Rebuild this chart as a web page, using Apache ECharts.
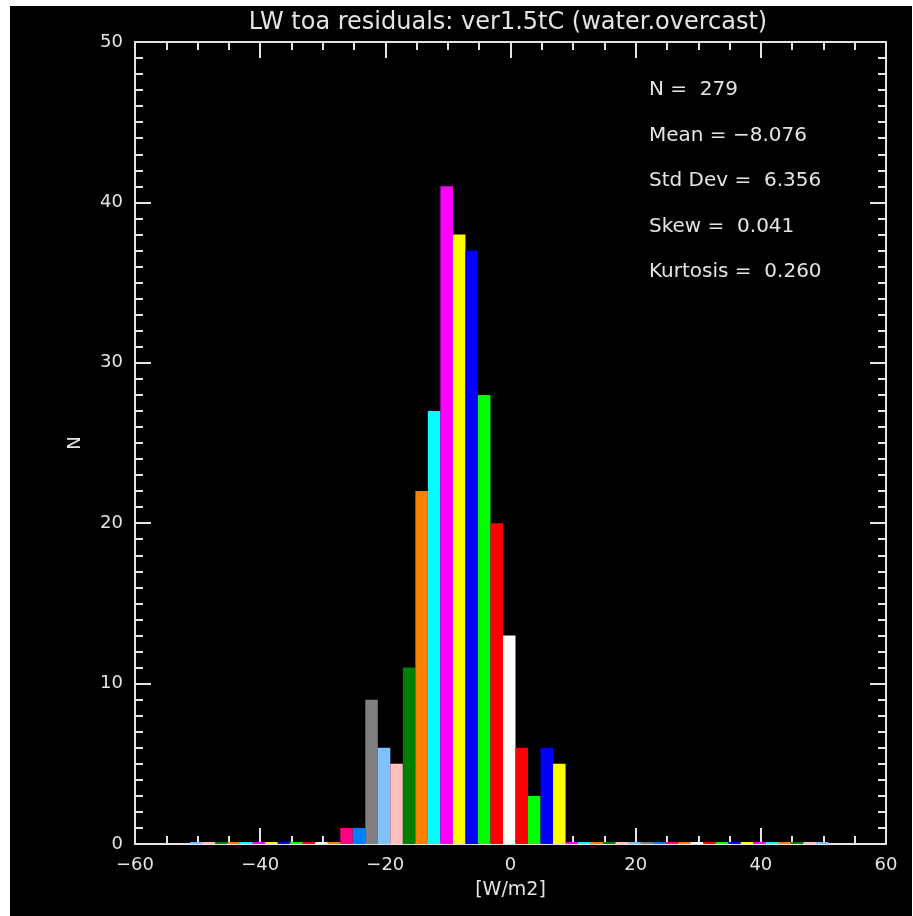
<!DOCTYPE html>
<html>
<head>
<meta charset="utf-8">
<script src="https://cdn.jsdelivr.net/npm/echarts@6/dist/echarts.min.js"></script>
<style>
html,body{margin:0;padding:0;background:#fff;}
#chart{width:913px;height:916px;}
</style>
</head>
<body>
<div id="chart"></div>
<script>
// ---- data ----
const titleText = 'LW toa residuals: ver1.5tC (water.overcast)';
const xAxisName = '[W/m2]';
const yAxisName = 'N';
const binStart = -51.2;
const binWidth = 2;
const counts = [
  0,0,0,0,0,0,0,0,0,0,0,0,
  1,1,9,6,5,11,22,27,41,38,37,28,20,13,6,3,6,5,
  0,0,0,0,0,0,0,0,0,0,0,0,0,0,0,0,0,0,0,0,0
];
const xTicks = [-60,-40,-20,0,20,40,60];
const yTicks = [0,10,20,30,40,50];
const statsLines = ['N =  279','Mean = \u22128.076','Std Dev =  6.356','Skew =  0.041','Kurtosis =  0.260'];

// ---- styles ----
const C = {
  lb:'#80c0ff', pk:'#ffc0c0', dg:'#008000', or:'#ff8000', cy:'#00ffff', mg:'#ff00ff',
  ye:'#ffff00', bl:'#0000ff', gr:'#00ff00', rd:'#ff0000', wh:'#ffffff', dp:'#ff0080',
  db:'#0080ff', gy:'#808080'
};
const halfPal = ['lb','pk','dg','or','cy','mg','ye','bl','gr','rd','wh','or','dp','db','gy',
                 'lb','pk','dg','or','cy','mg','ye','bl','gr','rd'];
const palette = halfPal.concat(['wh']).concat(halfPal.slice().reverse()).map(k => C[k]);

const fg = '#e4e4e4';
const font = 'DejaVu Sans';
const minus = v => String(v).replace('-', '\u2212');

const binData = counts.map((n, i) => [binStart + i*binWidth, binStart + (i+1)*binWidth, n]);

const chart = echarts.init(document.getElementById('chart'), null, {renderer:'canvas'});

function xAx(pos, showLabel) {
  return {
    type:'value', position:pos, min:xTicks[0], max:xTicks[xTicks.length-1], interval:20,
    axisLine:{show:true, onZero:false, lineStyle:{color:fg, width:2}},
    axisTick:{show:true, inside:true, length:16, lineStyle:{color:fg, width:2}},
    minorTick:{show:true, splitNumber:4, length:8, lineStyle:{color:fg, width:2}},
    splitLine:{show:false}, minorSplitLine:{show:false},
    axisLabel:{show:showLabel, color:fg, fontFamily:font, fontSize:18, margin:12, formatter:minus},
    name: showLabel ? xAxisName : '', nameLocation:'middle', nameGap:37,
    nameTextStyle:{color:fg, fontFamily:font, fontSize:19}
  };
}
function yAx(pos, showLabel) {
  return {
    type:'value', position:pos, min:yTicks[0], max:yTicks[yTicks.length-1], interval:10,
    axisLine:{show:true, onZero:false, lineStyle:{color:fg, width:2}},
    axisTick:{show:true, inside:true, length:16, lineStyle:{color:fg, width:2}},
    minorTick:{show:true, splitNumber:10, length:8, lineStyle:{color:fg, width:2}},
    splitLine:{show:false}, minorSplitLine:{show:false},
    axisLabel:{show:showLabel, color:fg, fontFamily:font, fontSize:18, margin:12},
    name: showLabel ? yAxisName : '', nameLocation:'middle', nameGap:51, nameRotate:90,
    nameTextStyle:{color:fg, fontFamily:font, fontSize:18}
  };
}

const graphics = [
  {type:'rect', shape:{x:0,y:0,width:10,height:916}, style:{fill:'#fff'}, silent:true},
  {type:'rect', shape:{x:0,y:0,width:913,height:6}, style:{fill:'#fff'}, silent:true},
  {type:'rect', shape:{x:912,y:0,width:1,height:916}, style:{fill:'#fff'}, silent:true},
  {type:'text', x:508, y:23, style:{text:titleText, fill:fg, font:'24px "DejaVu Sans"', textAlign:'center', textVerticalAlign:'middle'}}
];
const statY = [90,136,181,227,272];
statsLines.forEach((t, i) => {
  graphics.push({type:'text', x:649, y:statY[i], style:{text:t, fill:fg, font:'20px "DejaVu Sans"', textAlign:'left', textVerticalAlign:'middle'}});
});

chart.setOption({
  backgroundColor:'#000',
  animation:false,
  grid:{left:135, top:42, width:751, height:802, containLabel:false},
  xAxis:[xAx('bottom', true), xAx('top', false)],
  yAxis:[yAx('left', true), yAx('right', false)],
  graphic: graphics,
  series:[{
    type:'custom',
    xAxisIndex:0, yAxisIndex:0,
    data: binData,
    encode:{x:[0,1], y:2},
    z:5,
    renderItem: function(params, api) {
      const p0 = api.coord([api.value(0), api.value(2)]);
      const p1 = api.coord([api.value(1), 0]);
      let top = p0[1], h = p1[1] - p0[1];
      if (h < 2) { top = p1[1] - 2; h = 2; }
      return {type:'rect', shape:{x:p0[0], y:top, width:p1[0]-p0[0], height:h},
              style:{fill: palette[params.dataIndex]}};
    }
  }]
});
</script>
</body>
</html>
